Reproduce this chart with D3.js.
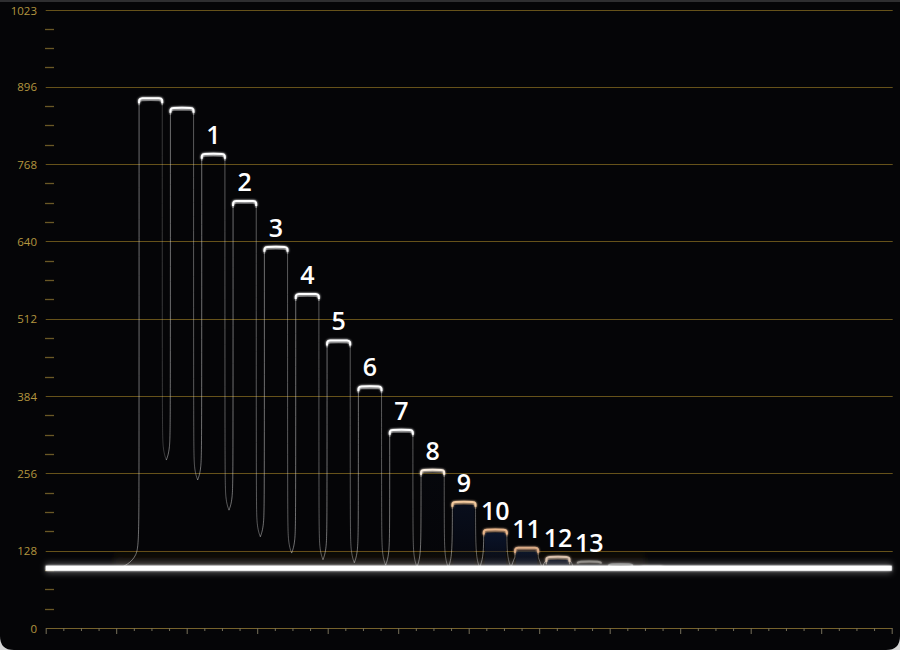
<!DOCTYPE html>
<html><head><meta charset="utf-8">
<script src="https://cdn.jsdelivr.net/npm/d3@7"></script>
<style>
html,body{margin:0;padding:0;background:#d6d6d6;}
svg{display:block;}
</style></head><body>
<svg id="chart" width="900" height="650"></svg>
<script>
// ---------- data ----------
const yTickLabels = [0, 128, 256, 384, 512, 640, 768, 896, 1023];
const barLabels = ["", "", "1", "2", "3", "4", "5", "6", "7", "8", "9", "10", "11", "12", "13", "", ""];
const barTops   = [877, 861, 785, 707, 631, 553, 476, 400, 328, 262, 209, 163, 133, 118, 110, 106, 102];
const barFeet   = [99, 278, 245, 195, 151, 124, 113, 108, 104, 101, 100, 100, 100, 99, 99, 99, 99];
const baseLevel = 99;
const xTickSteps = 48;

// ---------- styles ----------
const gridColor = "#66521a";
const tickColor = "#6a5826";
const labelColor = "#b3953f";
const topColor = d3.scaleLinear()
  .domain([100, 106, 112, 125, 150, 200, 240, 280])
  .range(["#8c8c8c", "#bdbdbd", "#ddd6cc", "#d6a886", "#e8b48a", "#f2c596", "#f8dcbc", "#ffffff"])
  .clamp(true);
const fillOpacity = d3.scaleLinear().domain([100, 125, 175, 230, 280]).range([0.15, 0.55, 0.5, 0.2, 0]).clamp(true);

// ---------- scales ----------
const svg = d3.select("#chart");
const W = 900, H = 650;
const y = d3.scaleLinear().domain([0, 1023]).range([628, 10]);
const xAxisScale = d3.scaleLinear().domain([0, xTickSteps]).range([45.7, 891.7]);
const xb = d3.scaleBand().domain(d3.range(barTops.length)).range([135, 667.6]).paddingInner(0.26).paddingOuter(0.13);
const bw = xb.bandwidth();

// ---------- defs ----------
const defs = svg.append("defs");
function mkFilter(id, sd, merge) {
  const f = defs.append("filter").attr("id", id).attr("filterUnits", "userSpaceOnUse")
    .attr("x", 0).attr("y", 0).attr("width", W).attr("height", H);
  f.append("feGaussianBlur").attr("in", "SourceGraphic").attr("stdDeviation", sd).attr("result", "b");
  if (merge) {
    const m = f.append("feMerge");
    m.append("feMergeNode").attr("in", "b");
    m.append("feMergeNode").attr("in", "SourceGraphic");
  }
}
mkFilter("glow", 1.3, true);
mkFilter("soft", 3, false);
const navy = defs.append("linearGradient").attr("id", "navy").attr("x1", 0).attr("x2", 0).attr("y1", 0).attr("y2", 1);
navy.append("stop").attr("offset", "0%").attr("stop-color", "#10224a");
navy.append("stop").attr("offset", "100%").attr("stop-color", "#070b1c");
const haze = defs.append("linearGradient").attr("id", "haze").attr("x1", 0).attr("x2", 0).attr("y1", 0).attr("y2", 1);
haze.append("stop").attr("offset", "0%").attr("stop-color", "#3a2c18").attr("stop-opacity", 0);
haze.append("stop").attr("offset", "100%").attr("stop-color", "#4a3820").attr("stop-opacity", 0.35);

// ---------- panel ----------
const r = 14;
const panel = d3.path();
panel.moveTo(0, 0); panel.lineTo(W, 0); panel.lineTo(W, H - r);
panel.quadraticCurveTo(W, H, W - r, H); panel.lineTo(r, H);
panel.quadraticCurveTo(0, H, 0, H - r); panel.closePath();
svg.append("path").attr("d", panel.toString()).attr("fill", "#050507");
svg.append("line").attr("x1", 0).attr("x2", W).attr("y1", 1).attr("y2", 1).attr("stroke", "#2e2e30").attr("stroke-width", 2);

// ---------- grid & y axis ----------
const gx0 = xAxisScale.range()[0], gx1 = xAxisScale.range()[1] + 1;
svg.append("g").selectAll("rect").data(yTickLabels.filter(v => v > 0)).join("rect")
  .attr("x", gx0).attr("width", gx1 - gx0)
  .attr("y", d => Math.round(y(d))).attr("height", 1)
  .attr("fill", gridColor);

const minor = d3.range(32, 1023, 32).filter(v => v % 128 !== 0);
svg.append("g").selectAll("line").data(minor).join("line")
  .attr("x1", 45).attr("x2", 54)
  .attr("y1", d => Math.round(y(d)) + 0.5).attr("y2", d => Math.round(y(d)) + 0.5)
  .attr("stroke", tickColor).attr("stroke-width", 1.3);

svg.append("g").selectAll("text").data(yTickLabels).join("text")
  .attr("x", 37).attr("y", d => y(d))
  .attr("text-anchor", "end").attr("dominant-baseline", "central")
  .attr("font-family", "'Open Sans', 'Noto Sans', sans-serif").attr("font-size", 11.5)
  .attr("fill", labelColor).text(d => d);

// ---------- x axis ----------
const xAxis = svg.append("g").attr("transform", `translate(0,${y(0)})`)
  .call(d3.axisBottom(xAxisScale).tickValues(d3.range(0, xTickSteps + 1)).tickSize(3).tickSizeOuter(0).tickFormat(""));
xAxis.select(".domain").attr("stroke", "#76622c");
xAxis.selectAll(".tick line").attr("stroke", "#77705a").attr("y2", d => d % 4 === 0 ? 6 : 3);

// ---------- haze above base ----------
svg.append("rect").attr("x", xb(0) - 25).attr("width", xb(barTops.length - 1) - xb(0) + 30)
  .attr("y", y(baseLevel) - 20).attr("height", 18).attr("fill", "url(#haze)").attr("filter", "url(#soft)");

// ---------- bars (waveform steps) ----------
const line = d3.line().curve(d3.curveBasis);
const g = svg.append("g");
barTops.forEach((v, i) => {
  const xl = xb(i), xr = xl + bw, top = y(v);
  const footL = y(barFeet[i]);
  const dipL = i === 0 ? xl - 19 : (xb(i - 1) + bw + xl) / 2;
  const footR = i < barTops.length - 1 ? y(barFeet[i + 1]) : y(baseLevel);
  const dipR = i < barTops.length - 1 ? (xr + xb(i + 1)) / 2 : xr + 4;
  const tall = y(baseLevel) - top > 9;

  // inner fill for the low, tinted steps
  const fo = fillOpacity(v);
  if (fo > 0.01 && y(baseLevel) - top > 6) {
    g.append("rect").attr("x", xl + 1).attr("width", bw - 2).attr("y", top + 3)
      .attr("height", y(baseLevel) - top - 3).attr("fill", "url(#navy)").attr("opacity", fo);
  }

  // sides
  if (tall) {
    const leftPts = [[dipL, footL], [xl - 0.5, footL - 10], [xl, Math.max(top + 10, footL - 40)], [xl, top + 4]];
    const rightPts = [[xr, top + 4], [xr, Math.max(top + 10, footR - 40)], [xr + 0.5, footR - 10], [dipR, footR]];
    g.append("path").attr("d", line(leftPts)).attr("fill", "none")
      .attr("stroke", "#d8d8d8").attr("stroke-width", 1).attr("opacity", 0.5);
    g.append("path").attr("d", line(rightPts)).attr("fill", "none")
      .attr("stroke", "#d0d0d0").attr("stroke-width", 1).attr("opacity", i === 0 ? 0.25 : 0.42);
  }

  // top edge
  const c = topColor(v);
  const drop = tall ? 5 : 2;
  const topPts = [[xl, top + drop], [xl, top + 1], [xl + 2, top], [xl + bw / 2, top], [xr - 2, top], [xr, top + 1], [xr, top + drop]];
  if (tall) {
    g.append("path").attr("d", line(topPts.map(p => [p[0], p[1] + 2]))).attr("fill", "none")
      .attr("stroke", d3.color(c).darker(0.8)).attr("stroke-width", 1.6).attr("opacity", 0.55);
  }
  g.append("path").attr("d", line(topPts)).attr("fill", "none")
    .attr("stroke", c).attr("stroke-width", 2).attr("opacity", tall ? 1 : 0.6).attr("filter", "url(#glow)");
});

// ---------- base line ----------
const by = y(baseLevel);
svg.append("rect").attr("x", gx0).attr("width", gx1 - 1 - gx0).attr("y", by - 5).attr("height", 10)
  .attr("fill", "#ffffff").attr("opacity", 0.3).attr("filter", "url(#soft)");
svg.append("rect").attr("x", gx0).attr("width", gx1 - 1 - gx0).attr("y", by - 2.5).attr("height", 5)
  .attr("fill", "#ffffff").attr("filter", "url(#glow)");

// ---------- step labels ----------
svg.append("g").selectAll("text").data(barTops.map((v, i) => ({ v, i, t: barLabels[i] })).filter(d => d.t))
  .join("text")
  .attr("x", d => xb(d.i) + bw / 2).attr("y", d => y(d.v) - 10)
  .attr("text-anchor", "middle")
  .attr("font-family", "'Open Sans', 'Noto Sans', sans-serif").attr("font-size", 25).attr("font-weight", 600)
  .attr("fill", "#ffffff").text(d => d.t);
</script>
</body></html>
